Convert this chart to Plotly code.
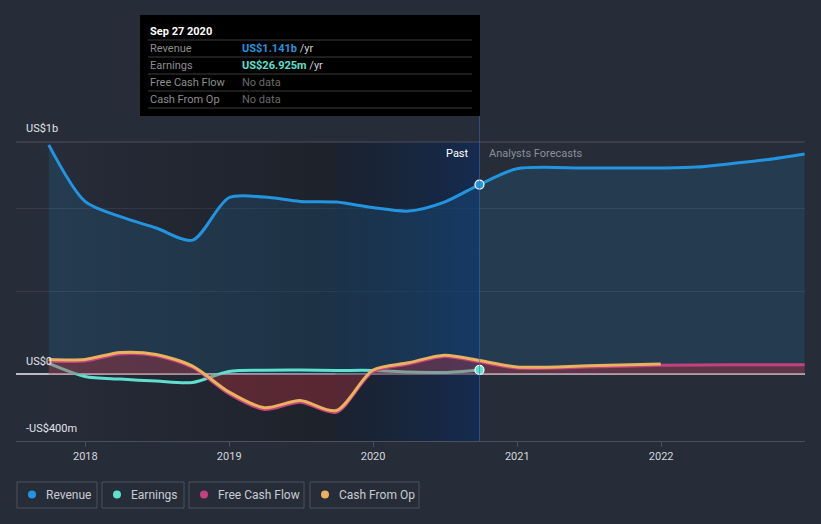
import plotly.graph_objects as go

# ---------------- data (US$ millions) ----------------
rev_past_dates = ["2017-09-30", "2017-12-31", "2018-03-31", "2018-06-30", "2018-09-30",
                  "2018-12-31", "2019-03-31", "2019-06-30", "2019-09-30", "2019-12-31",
                  "2020-03-31", "2020-06-30", "2020-09-27"]
rev_past_vals = [1380, 1040, 948, 880, 807, 1062, 1066, 1040, 1036, 1003, 982, 1036, 1141]
rev_fc_dates = ["2020-12-31", "2021-06-30", "2021-12-31", "2022-03-31", "2022-06-30",
                "2022-09-30", "2022-12-31"]
rev_fc_vals = [1236, 1240, 1241, 1246, 1268, 1292, 1325]

earn_dates = rev_past_dates
earn_vals = [66, -12, -28, -40, -48, 18, 25, 26, 24, 24, 14, 12, 26.925]

fcf_dates = rev_past_dates + ["2020-12-31", "2021-06-30", "2021-12-31", "2022-06-30", "2022-12-31"]
fcf_vals = [80, 80, 123, 112, 42, -115, -210, -167, -227, 15, 62, 108, 76, 38, 44, 55, 58, 58]

cfo_dates = rev_past_dates + ["2020-12-31", "2021-06-30", "2021-12-31"]
cfo_vals = [90, 90, 132, 120, 50, -105, -200, -157, -217, 25, 70, 116, 84, 45, 52, 63]

x_tick_years = ["2018", "2019", "2020", "2021", "2022"]
y_labels = ["US$1b", "US$0", "-US$400m"]
y_grid_vals = [500, 1000]
tooltip_date = "Sep 27 2020"
tooltip_rows = [("Revenue", "US$1.141b", "#2394df"), ("Earnings", "US$26.925m", "#5fe0cf"),
                ("Free Cash Flow", None, None), ("Cash From Op", None, None)]
legend_items = [("Revenue", "#2394df"), ("Earnings", "#5fe0cf"),
                ("Free Cash Flow", "#c4407e"), ("Cash From Op", "#eab25e")]

# ---------------- layout helpers ----------------
W, H = 821, 524
ML, MR, MT, MB = 16, 16, 142, 83
Y_MIN, Y_MAX = -400, 1397
X_MIN, X_MAX = "2017-07-09", "2023-01-01"
BG = "#262c38"
FONT = "Roboto, 'Open Sans', sans-serif"


def px_x(px):
    return (px - ML) / (W - ML - MR)


def px_y(py):
    return (H - MB - py) / (H - MT - MB)


past_end = rev_past_dates[-1]
hl_start = str(int(past_end[:4]) - 1) + past_end[4:]
data_start = rev_past_dates[0]

fig = go.Figure()

# dark past gradient
fig.add_trace(go.Scatter(
    x=[data_start, hl_start, hl_start, data_start, data_start],
    y=[Y_MIN, Y_MIN, Y_MAX, Y_MAX, Y_MIN], mode="lines", line=dict(width=0),
    fill="toself",
    fillgradient=dict(type="horizontal",
                      colorscale=[[0, "rgba(0,0,0,0)"], [1, "rgba(0,0,0,0.24)"]]),
    hoverinfo="skip", showlegend=False))

# last-12-months highlight
fig.add_trace(go.Scatter(
    x=[hl_start, past_end, past_end, hl_start, hl_start],
    y=[Y_MIN, Y_MIN, Y_MAX, Y_MAX, Y_MIN], mode="lines", line=dict(width=0),
    fill="toself",
    fillgradient=dict(type="horizontal",
                      colorscale=[[0, "rgba(10,20,35,0.4)"], [1, "rgba(10,42,95,0.62)"]]),
    hoverinfo="skip", showlegend=False))

# revenue
fig.add_trace(go.Scatter(
    x=rev_past_dates + rev_fc_dates, y=rev_past_vals + rev_fc_vals,
    mode="lines", line=dict(color="#2394df", width=3, shape="spline", smoothing=0.8),
    fill="tozeroy", fillcolor="rgba(35,148,223,0.15)", hoverinfo="skip", showlegend=False))

# earnings
fig.add_trace(go.Scatter(
    x=earn_dates, y=earn_vals, mode="lines",
    line=dict(color="#5fe0cf", width=3, shape="spline", smoothing=0.8),
    hoverinfo="skip", showlegend=False))

# free cash flow
fig.add_trace(go.Scatter(
    x=fcf_dates, y=fcf_vals, mode="lines",
    line=dict(color="#c4407e", width=3, shape="spline", smoothing=0.8),
    fill="tozeroy", fillcolor="rgba(195,50,62,0.36)", hoverinfo="skip", showlegend=False))

# cash from operations
fig.add_trace(go.Scatter(
    x=cfo_dates, y=cfo_vals, mode="lines",
    line=dict(color="#eab25e", width=3, shape="spline", smoothing=0.8),
    hoverinfo="skip", showlegend=False))

# markers at the tooltip date
fig.add_trace(go.Scatter(
    x=[past_end, past_end], y=[rev_past_vals[-1], earn_vals[-1]], mode="markers",
    marker=dict(size=9, color=["#2394df", "#5fe0cf"], line=dict(color="white", width=1.2)),
    hoverinfo="skip", showlegend=False))

shapes = []
annotations = []

# plot top line
shapes.append(dict(type="line", xref="paper", yref="paper", x0=0, x1=1, y0=1, y1=1,
                   line=dict(color="#4a4f5a", width=1)))
# past boundary line
shapes.append(dict(type="line", xref="x", yref="paper", x0=past_end, x1=past_end,
                   y0=0, y1=px_y(116), line=dict(color="rgba(60,110,180,0.55)", width=1)))

# y labels
for lab, py in zip(y_labels, [128, 361, 428]):
    annotations.append(dict(xref="paper", yref="paper", x=px_x(24), y=px_y(py), text=lab,
                            showarrow=False, xanchor="left", yanchor="middle",
                            font=dict(family=FONT, size=11, color="#e2e4e8")))

# past / forecast labels
annotations.append(dict(xref="paper", yref="paper", x=px_x(471), y=px_y(153), text="Past",
                        showarrow=False, xanchor="right", yanchor="middle",
                        font=dict(family=FONT, size=11, color="#ffffff")))
annotations.append(dict(xref="paper", yref="paper", x=px_x(487), y=px_y(153),
                        text="Analysts Forecasts", showarrow=False, xanchor="left",
                        yanchor="middle", font=dict(family=FONT, size=11, color="#8b9099")))

# tooltip box
shapes.append(dict(type="rect", xref="paper", yref="paper", x0=px_x(140), x1=px_x(480),
                   y0=px_y(116), y1=px_y(15), fillcolor="#000000", line=dict(width=0)))
annotations.append(dict(xref="paper", yref="paper", x=px_x(148), y=px_y(31),
                        text="<b>" + tooltip_date + "</b>",
                        showarrow=False, xanchor="left", yanchor="middle",
                        font=dict(family=FONT, size=11, color="#ffffff")))
sep_ys = [40, 57, 74, 91, 108]
for sy in sep_ys:
    shapes.append(dict(type="line", xref="paper", yref="paper", x0=px_x(148), x1=px_x(472),
                       y0=px_y(sy), y1=px_y(sy), line=dict(color="#3c3c3c", width=1)))
for i, (lab, val, col) in enumerate(tooltip_rows):
    cy = (sep_ys[i] + sep_ys[i + 1]) / 2
    annotations.append(dict(xref="paper", yref="paper", x=px_x(148), y=px_y(cy), text=lab,
                            showarrow=False, xanchor="left", yanchor="middle",
                            font=dict(family=FONT, size=11, color="#8e8e8e")))
    if val is None:
        txt = '<span style="color:#6a6a6a">No data</span>'
    else:
        txt = ('<b><span style="color:%s">%s</span></b>'
               '<span style="color:#d0d0d0"> /yr</span>') % (col, val)
    annotations.append(dict(xref="paper", yref="paper", x=px_x(240), y=px_y(cy), text=txt,
                            showarrow=False, xanchor="left", yanchor="middle",
                            font=dict(family=FONT, size=11, color="#d0d0d0")))

# legend boxes
box_x = [(17, 97), (102, 184), (189, 304), (310, 419)]
for (lab, col), (bx0, bx1) in zip(legend_items, box_x):
    shapes.append(dict(type="rect", xref="paper", yref="paper", x0=px_x(bx0), x1=px_x(bx1),
                       y0=px_y(508), y1=px_y(482), fillcolor="rgba(0,0,0,0)",
                       line=dict(color="#4b515c", width=1)))
    cx = bx0 + 15
    shapes.append(dict(type="circle", xref="paper", yref="paper",
                       x0=px_x(cx - 4), x1=px_x(cx + 4), y0=px_y(498.5), y1=px_y(490.5),
                       fillcolor=col, line=dict(width=0)))
    annotations.append(dict(xref="paper", yref="paper", x=px_x(bx0 + 27), y=px_y(494.5), text=lab,
                            showarrow=False, xanchor="left", yanchor="middle",
                            font=dict(family=FONT, size=12, color="#c9ccd2")))

fig.update_layout(
    width=W, height=H, autosize=False,
    margin=dict(l=ML, r=MR, t=MT, b=MB, pad=0),
    paper_bgcolor=BG, plot_bgcolor=BG,
    hovermode=False, showlegend=False,
    shapes=shapes, annotations=annotations,
    xaxis=dict(type="date", range=[X_MIN, X_MAX],
               tickvals=[y + "-01-01" for y in x_tick_years], ticktext=x_tick_years,
               ticks="outside", ticklen=5, tickcolor="#4a505c", tickwidth=1,
               showgrid=False, showline=True, linecolor="#4a505c", linewidth=1,
               zeroline=False, tickfont=dict(family=FONT, size=11, color="#d4d7dc"),
               fixedrange=True),
    yaxis=dict(range=[Y_MIN, Y_MAX], tickvals=y_grid_vals, showticklabels=False,
               showgrid=True, gridcolor="rgba(255,255,255,0.08)", gridwidth=1,
               zeroline=True, zerolinecolor="#b9bcc2", zerolinewidth=1.5,
               showline=False, fixedrange=True),
)

fig.write_html("out.html", config={"displayModeBar": False})
